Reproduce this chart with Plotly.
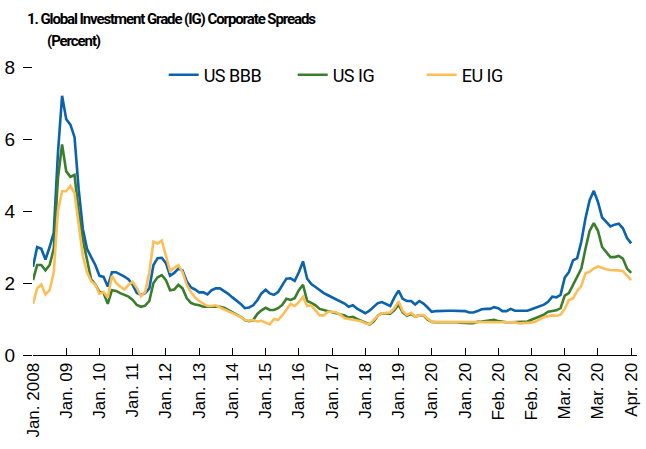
import plotly.graph_objects as go

tick_labels = ["Jan. 2008", "Jan. 09", "Jan. 10", "Jan. 11", "Jan. 12", "Jan. 13", "Jan. 14",
               "Jan. 15", "Jan. 16", "Jan. 17", "Jan. 18", "Jan. 19", "Jan. 20", "Jan. 20",
               "Feb. 20", "Feb. 20", "Mar. 20", "Mar. 20", "Apr. 20"]
points_per_label = 8

us_bbb = [2.45, 3.0, 2.95, 2.65, 3.0, 3.4, 5.6, 7.2, 6.55, 6.4, 6.05, 4.6, 3.5, 2.95, 2.72, 2.5,
          2.2, 2.17, 1.9, 2.3, 2.3, 2.25, 2.18, 2.1, 1.95, 1.72,
          1.67, 1.72, 1.85, 2.5, 2.69, 2.7, 2.55, 2.2, 2.28, 2.4, 2.35, 2.05, 1.88, 1.82, 1.74, 1.74,
          1.68, 1.8, 1.85, 1.85, 1.78, 1.7, 1.6, 1.52, 1.42, 1.3,
          1.32, 1.38, 1.52, 1.71, 1.81, 1.71, 1.67, 1.75, 1.95, 2.12, 2.13, 2.06, 2.3, 2.6, 2.12, 1.97,
          1.89, 1.8, 1.72, 1.66, 1.6, 1.55, 1.5, 1.43, 1.34, 1.38,
          1.29, 1.22, 1.16, 1.23, 1.34, 1.44, 1.47, 1.42, 1.36, 1.6, 1.79, 1.56, 1.5, 1.5, 1.4, 1.5,
          1.43, 1.32, 1.2, 1.22,
          1.23, 1.23, 1.23, 1.23, 1.23, 1.23, 1.22, 1.18, 1.18, 1.22, 1.27, 1.28, 1.28, 1.33, 1.3,
          1.22, 1.22, 1.28, 1.23, 1.23, 1.23, 1.23, 1.27, 1.31, 1.36, 1.4, 1.48, 1.62, 1.6, 1.67,
          2.15, 2.3, 2.63, 2.69, 3.15, 3.8, 4.3, 4.56, 4.25, 3.82, 3.7, 3.57, 3.62, 3.65, 3.52, 3.25, 3.1]

us_ig = [2.08, 2.5, 2.5, 2.35, 2.5, 2.95, 4.9, 5.85, 5.1, 4.95, 5.0, 3.95, 3.2, 2.6, 2.1, 1.96,
         1.75, 1.72, 1.42, 1.8, 1.78, 1.72, 1.68, 1.62, 1.53, 1.39,
         1.34, 1.37, 1.5, 2.0, 2.16, 2.22, 2.08, 1.8, 1.82, 1.95, 1.85, 1.58, 1.45, 1.4, 1.38, 1.34,
         1.34, 1.34, 1.34, 1.34, 1.31, 1.25, 1.2, 1.14, 1.06, 0.97,
         0.94, 0.97, 1.14, 1.24, 1.31, 1.25, 1.25, 1.3, 1.39, 1.56, 1.53, 1.58, 1.8, 1.95, 1.5, 1.45,
         1.38, 1.28, 1.25, 1.21, 1.18, 1.16, 1.14, 1.1, 1.04, 1.06,
         1.0, 0.95, 0.9, 0.85, 0.93, 1.09, 1.16, 1.15, 1.15, 1.25, 1.4, 1.18, 1.09, 1.14, 1.07, 1.1,
         1.1, 0.98, 0.92, 0.91,
         0.91, 0.92, 0.93, 0.93, 0.91, 0.9, 0.88, 0.88, 0.88, 0.92, 0.93, 0.95, 0.96, 0.98, 0.94,
         0.92, 0.91, 0.91, 0.91, 0.91, 0.91, 0.93, 0.98, 1.02, 1.06, 1.12, 1.2, 1.22, 1.24, 1.3,
         1.65, 1.72, 1.94, 2.2, 2.4, 2.95, 3.45, 3.66, 3.45, 3.0, 2.87, 2.72, 2.72, 2.75, 2.68, 2.4, 2.28]

eu_ig = [1.42, 1.85, 1.96, 1.68, 1.8, 2.3, 4.0, 4.55, 4.55, 4.7, 4.5, 3.65, 2.75, 2.3, 2.05, 1.95,
         1.7, 1.75, 1.6, 2.2, 2.0, 1.9, 1.82, 1.95, 2.03, 1.86,
         1.63, 1.75, 2.3, 3.15, 3.1, 3.18, 2.75, 2.33, 2.42, 2.5, 2.3, 1.95, 1.75, 1.6, 1.5, 1.42,
         1.36, 1.36, 1.38, 1.32, 1.27, 1.22, 1.18, 1.13, 1.06, 0.97,
         0.95, 0.97, 0.93, 0.95, 0.9, 0.85, 1.0, 0.97, 1.1, 1.25, 1.42, 1.36, 1.47, 1.62, 1.36, 1.38,
         1.25, 1.1, 1.1, 1.2, 1.2, 1.18, 1.12, 1.02, 1.0, 0.97,
         0.96, 0.94, 0.88, 0.85, 0.97, 1.09, 1.16, 1.16, 1.18, 1.3, 1.49, 1.22, 1.11, 1.17, 1.07, 1.1,
         1.11, 1.01, 0.92, 0.92,
         0.92, 0.92, 0.92, 0.92, 0.92, 0.93, 0.93, 0.93, 0.93, 0.93, 0.93, 0.93, 0.93, 0.93, 0.93,
         0.93, 0.93, 0.93, 0.91, 0.88, 0.88, 0.88, 0.9, 0.93, 1.0, 1.05, 1.08, 1.1, 1.09, 1.12,
         1.28, 1.53, 1.57, 1.78, 1.92, 2.27, 2.31, 2.41, 2.46, 2.41, 2.38, 2.36, 2.36, 2.35, 2.33, 2.2, 2.08]

y_ticks = [0, 2, 4, 6, 8]
series_names = ["US BBB", "US IG", "EU IG"]
series_colors = ["#0B62AD", "#3A7D2C", "#FDBE57"]

x = list(range(len(us_bbb)))
tickvals = [i * points_per_label for i in range(len(tick_labels))]

FONT = "Liberation Sans, Arial, sans-serif"
TFONT = "Roboto, Liberation Sans, Arial, sans-serif"

# plot area in pixels
L, R, T, B = 31, 641, 67, 355


def px(xpix):
    return (xpix - L) / (R - L)


def py(ypix):
    return (B - ypix) / (B - T)


def squeeze(txt, ls):
    return '<span style="letter-spacing:%spx">%s</span>' % (ls, txt)


fig = go.Figure()
for name, vals, color in zip(series_names, [us_bbb, us_ig, eu_ig], series_colors):
    fig.add_trace(go.Scatter(x=x, y=vals, name=squeeze(name, -0.5), mode="lines",
                             line=dict(color=color, width=2.6)))

fig.update_layout(
    width=646, height=449,
    margin=dict(l=L, r=646 - R, t=T, b=449 - B),
    paper_bgcolor="white", plot_bgcolor="white",
    showlegend=True,
    legend=dict(orientation="h", x=px(163), xanchor="left", y=py(75), yanchor="middle",
                font=dict(family=TFONT, size=18, color="black"),
                bgcolor="rgba(0,0,0,0)", entrywidth=84, entrywidthmode="pixels"),
    xaxis=dict(range=[0, 145.4], tickmode="array", tickvals=tickvals, ticktext=tick_labels,
               tickangle=-90, ticks="inside", ticklen=7, tickcolor="black", tickwidth=1,
               showline=True, linecolor="black", linewidth=1.2, showgrid=False, zeroline=False,
               tickfont=dict(family=FONT, size=17, color="black")),
    yaxis=dict(range=[0, 8], tickmode="array", tickvals=y_ticks, ticks="outside", ticklen=9,
               tickcolor="black", tickwidth=1, showline=False, showgrid=False, zeroline=False,
               ticklabelstandoff=4,
               tickfont=dict(family=FONT, size=19, color="black")),
    yaxis2=dict(range=[0, 8], overlaying="y", side="right", tickmode="array", tickvals=y_ticks,
                ticks="inside", ticklen=7, tickcolor="black", showticklabels=False,
                showline=False, showgrid=False, zeroline=False),
    annotations=[
        dict(text="<b>" + squeeze("1. Global Investment Grade (IG) Corporate Spreads", -1.1) + "</b>",
             xref="paper", yref="paper", x=px(23), y=py(19), xanchor="left", yanchor="middle",
             showarrow=False, font=dict(family=TFONT, size=15, color="black")),
        dict(text="<b>" + squeeze("(Percent)", -1.1) + "</b>",
             xref="paper", yref="paper", x=px(43), y=py(41), xanchor="left", yanchor="middle",
             showarrow=False, font=dict(family=TFONT, size=15, color="black")),
    ],
)

fig.write_html("out.html", config={"displayModeBar": False},
               post_script="document.body.style.margin='0px';")
